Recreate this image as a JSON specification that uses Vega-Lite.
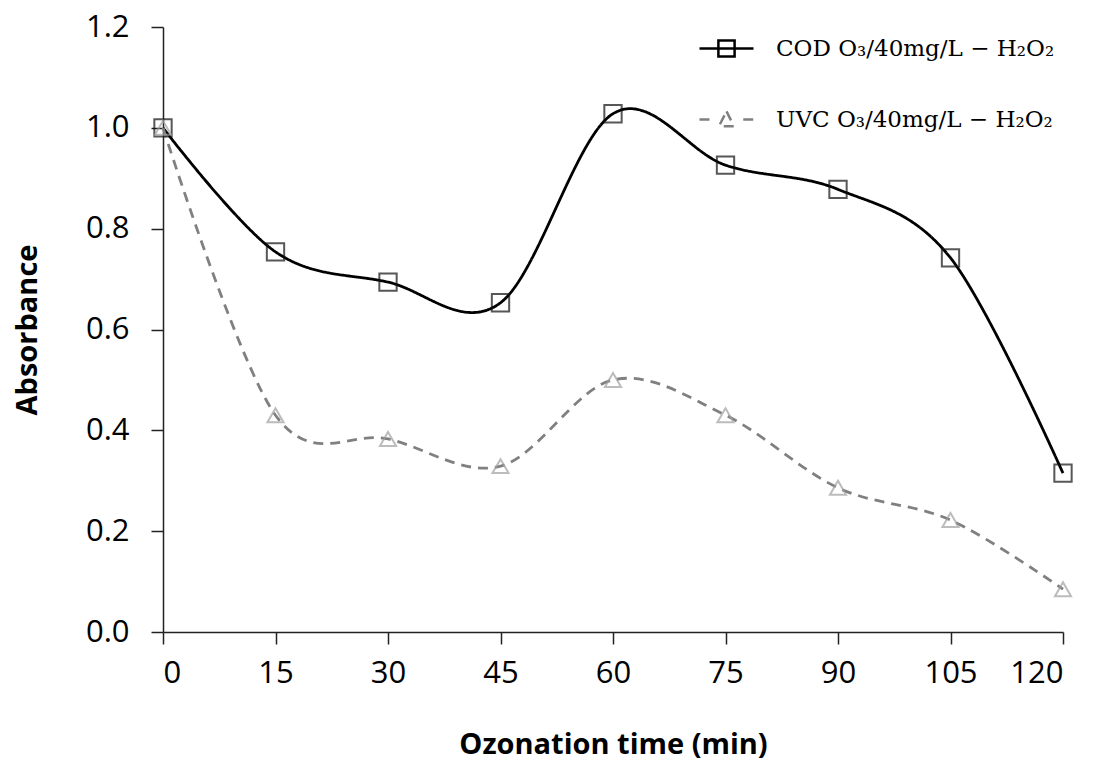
{
  "$schema": "https://vega.github.io/schema/vega-lite/v6.json",
  "width": 900,
  "height": 605,
  "autosize": {"type": "none"},
  "padding": {"left": 163, "top": 27, "right": 30, "bottom": 133},
  "background": "white",
  "config": {
    "view": {"stroke": null},
    "axis": {
      "grid": false,
      "domainColor": "#222222",
      "domainWidth": 1.5,
      "tickColor": "#222222",
      "tickWidth": 1.5,
      "tickSize": 12,
      "labelFont": "Open Sans",
      "labelFontSize": 31,
      "labelColor": "#000000",
      "titleFont": "Open Sans",
      "titleFontSize": 29,
      "titleFontWeight": "bold",
      "titleColor": "#000000"
    }
  },
  "data": {
    "values": [
      {"t": 0, "v": 1.0, "s": "COD"},
      {"t": 15, "v": 0.754, "s": "COD"},
      {"t": 30, "v": 0.694, "s": "COD"},
      {"t": 45, "v": 0.653, "s": "COD"},
      {"t": 60, "v": 1.028, "s": "COD"},
      {"t": 75, "v": 0.926, "s": "COD"},
      {"t": 90, "v": 0.878, "s": "COD"},
      {"t": 105, "v": 0.742, "s": "COD"},
      {"t": 120, "v": 0.315, "s": "COD"},
      {"t": 0, "v": 1.0, "s": "UVC"},
      {"t": 15, "v": 0.43, "s": "UVC"},
      {"t": 30, "v": 0.383, "s": "UVC"},
      {"t": 45, "v": 0.329, "s": "UVC"},
      {"t": 60, "v": 0.5, "s": "UVC"},
      {"t": 75, "v": 0.43, "s": "UVC"},
      {"t": 90, "v": 0.286, "s": "UVC"},
      {"t": 105, "v": 0.222, "s": "UVC"},
      {"t": 120, "v": 0.085, "s": "UVC"}
    ]
  },
  "encoding": {
    "x": {
      "field": "t",
      "type": "quantitative",
      "scale": {"domain": [0, 120], "nice": false, "zero": false},
      "axis": {
        "values": [0, 15, 30, 45, 60, 75, 90, 105, 120],
        "title": "Ozonation time (min)",
        "labelPadding": 14,
        "titlePadding": 42
      }
    },
    "y": {
      "field": "v",
      "type": "quantitative",
      "scale": {"domain": [0, 1.2], "nice": false},
      "axis": {
        "values": [0, 0.2, 0.4, 0.6, 0.8, 1.0, 1.2],
        "format": ".1f",
        "title": "Absorbance",
        "labelPadding": 22,
        "titlePadding": 43
      }
    }
  },
  "layer": [
    {
      "mark": {"type": "line", "interpolate": "cardinal", "strokeWidth": 2.8},
      "encoding": {
        "color": {
          "field": "s",
          "type": "nominal",
          "scale": {"domain": ["COD", "UVC"], "range": ["#000000", "#808080"]},
          "legend": {
            "orient": "none",
            "legendX": 535,
            "legendY": -7,
            "title": null,
            "padding": 0,
            "symbolType": "M-1,0H1",
            "symbolSize": 2916,
            "symbolStrokeWidth": 2.5,
            "symbolFillColor": "transparent",
            "rowPadding": 29,
            "labelOffset": 21,
            "labelFont": "DejaVu Serif",
            "labelFontSize": 23,
            "labelColor": "#000000",
            "labelLimit": 500,
            "labelExpr": "datum.value === 'COD' ? 'COD O₃/40mg/L − H₂O₂' : 'UVC O₃/40mg/L − H₂O₂'",
            "encode": {
              "symbols": {
                "update": {
                  "shape": {"signal": "datum.value === 'COD' ? 'M-1,0H1M-0.3,-0.3H0.3V0.3H-0.3Z' : 'M-1,0H-0.62M0.62,0H1M0,-0.3L0.28,0.25H-0.28Z'"},
                  "fill": {"value": "transparent"},
                  "strokeDash": {"value": []}
                }
              }
            }
          }
        },
        "strokeDash": {
          "field": "s",
          "type": "nominal",
          "scale": {"domain": ["COD", "UVC"], "range": [[1, 0], [10, 7]]},
          "legend": null
        }
      }
    },
    {
      "transform": [{"filter": "datum.s === 'COD'"}],
      "mark": {"type": "point", "shape": "square", "filled": false, "strokeWidth": 2, "size": 300, "stroke": "#111111"}
    },
    {
      "transform": [{"filter": "datum.s === 'UVC'"}],
      "mark": {"type": "point", "shape": "triangle-up", "filled": false, "strokeWidth": 2, "size": 260, "stroke": "#a0a0a0"}
    }
  ]
}
